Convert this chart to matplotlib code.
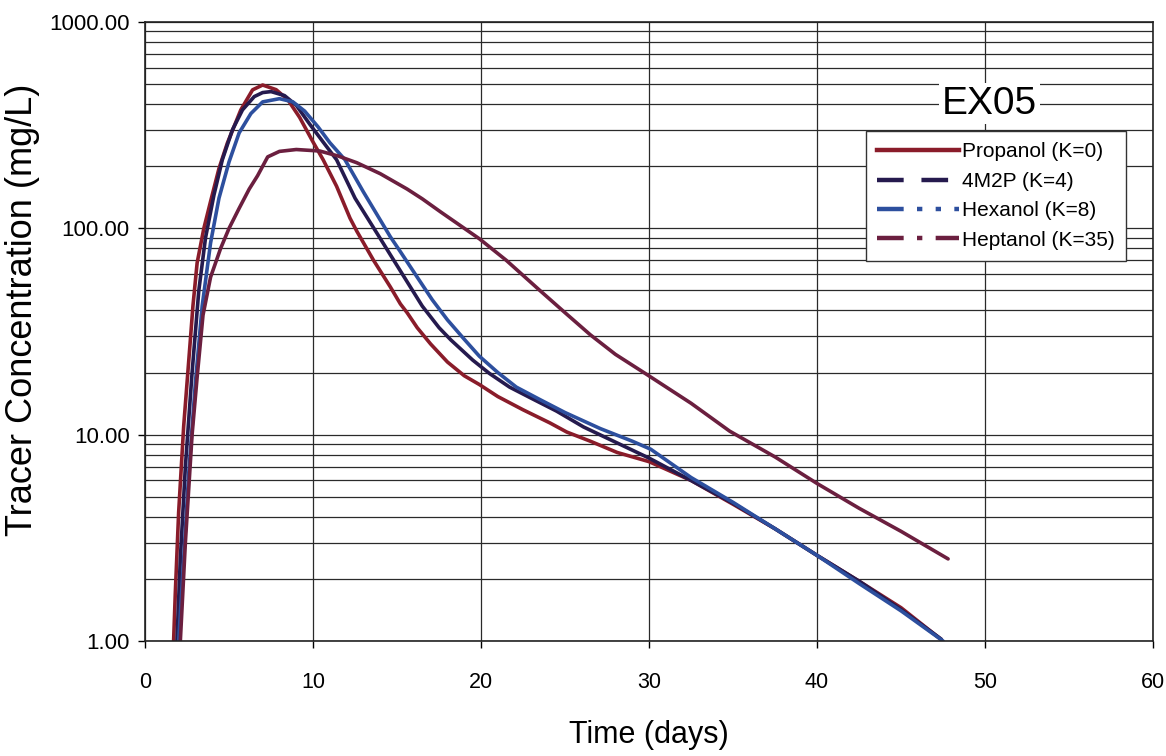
import matplotlib
matplotlib.use("Agg")
import matplotlib.pyplot as plt
from matplotlib.lines import Line2D
from matplotlib.ticker import FixedLocator, FuncFormatter, NullFormatter

plt.rcParams['font.family'] = ['Liberation Sans', 'DejaVu Sans']

# Propanol (K=0)
propanol_days = [1.7, 1.8, 2.0, 2.3, 2.7, 2.85, 3.1, 3.5, 3.9, 4.4, 4.9, 5.7, 6.4, 7.0, 7.8,
                 8.5, 9.2, 10.0, 10.6, 11.4, 12.2, 12.6, 13.6, 14.6, 15.2, 15.6, 16.2,
                 17.0, 18.0, 19.0, 19.9, 21.0, 22.5, 24.1, 25.1, 26.5, 28.1, 30.0,
                 32.5, 35.0, 37.5, 40.0, 42.5, 45.0, 47.3]
propanol_conc = [1.0, 1.7, 4.2, 11, 29, 42, 68, 100, 135, 195, 259, 375, 469, 495, 470,
                 420, 345, 262, 215, 160, 112, 97, 70, 52, 43, 39, 33,
                 27.5, 22.5, 19.3, 17.5, 15.3, 13.2, 11.4, 10.3, 9.3, 8.2, 7.4,
                 6.0, 4.6, 3.5, 2.6, 1.95, 1.45, 1.03]

# 4M2P (K=4)
m2p_days = [1.9, 2.1, 2.4, 2.8, 3.2, 3.6, 4.1, 4.6, 5.2, 5.8, 6.5, 7.0, 7.5, 8.3,
            9.0, 9.8, 10.6, 11.4, 12.5, 13.9, 15.0, 16.5, 17.5, 18.2, 19.5, 20.5,
            21.7, 23.0, 24.5, 26.1, 28.0, 30.0, 32.5, 35.0, 37.5, 40.0, 42.5, 45.0, 47.4]
m2p_conc = [1.0, 2.5, 7, 20, 50, 90, 145, 215, 300, 375, 435, 455, 460, 440,
            395, 320, 262, 215, 140, 92, 66, 42, 33, 28.8, 23, 19.8,
            17, 15, 13, 10.9, 9.2, 7.7, 6.0, 4.65, 3.5, 2.6, 1.95, 1.42, 1.02]

# Hexanol (K=8)
hexanol_days = [2.0, 2.3, 2.6, 3.0, 3.4, 3.9, 4.4, 5.0, 5.6, 6.3, 7.0, 8.0, 8.8,
                9.5, 10.3, 11.0, 11.9, 13.0, 14.6, 15.2, 16.2, 17.1, 18.0, 19.0,
                19.9, 21.0, 22.1, 23.5, 25.0, 27.1, 29.0, 30.1, 32.5, 35.0, 37.5,
                40.0, 42.5, 45.0, 47.5]
hexanol_conc = [1.0, 2.5, 6.5, 18, 42, 85, 140, 210, 290, 360, 410, 425, 410,
                370, 310, 260, 215, 150, 91, 77, 58, 45, 36, 29,
                24, 20, 17, 14.8, 12.8, 10.7, 9.3, 8.5, 6.2, 4.7, 3.5,
                2.6, 1.9, 1.4, 1.0]

# Heptanol (K=35)
heptanol_days = [2.1, 2.4, 2.8, 3.1, 3.45, 3.9, 4.5, 5.0, 5.6, 6.2, 6.7, 7.3, 8.0,
                 9.0, 10.4, 11.5, 12.6, 14.0, 15.6, 16.5, 17.6, 19.9, 21.5, 23.5, 25.0,
                 26.5, 28.0, 29.9, 32.5, 34.8, 37.5, 40.0, 42.5, 45.0, 47.8]
heptanol_conc = [1.0, 3, 10, 19, 38, 58, 80, 100, 125, 155, 180, 222, 236,
                 241, 237, 224, 208, 184, 155, 139, 120, 89, 70, 50, 39,
                 30.5, 24.5, 19.5, 14.2, 10.4, 7.8, 5.8, 4.4, 3.4, 2.5]

series_labels = ["Propanol (K=0)", "4M2P (K=4)", "Hexanol (K=8)", "Heptanol (K=35)"]
series_colors = ["#8a1c2a", "#251a4e", "#2d4f9e", "#6b1f3f"]
legend_dashes = [None, (6, 4), (6, 3, 1.2, 3, 1.2, 3), (6, 3, 1.2, 3)]

x_ticks = [0, 10, 20, 30, 40, 50, 60]
y_major = [1, 10, 100, 1000]

fig = plt.figure(figsize=(11.66, 7.56), dpi=100)
ax = fig.add_axes([0.1244, 0.1521, 0.8645, 0.8188])

grid_kw = dict(color="#2a2a2a", linewidth=0.9)
ax.set_yscale("log")
ax.set_xlim(0, 60)
ax.set_ylim(1, 1000)

ax.xaxis.set_major_locator(FixedLocator(x_ticks))
ax.yaxis.set_major_locator(FixedLocator(y_major))
minor = [m * 10 ** e for e in range(0, 3) for m in range(2, 10)]
ax.yaxis.set_minor_locator(FixedLocator(minor))
ax.yaxis.set_minor_formatter(NullFormatter())
ax.yaxis.set_major_formatter(FuncFormatter(lambda v, p: f"{v:.2f}"))
ax.grid(True, which="both", axis="y", **grid_kw)
ax.grid(True, which="major", axis="x", **grid_kw)
ax.set_axisbelow(True)

ax.tick_params(axis="y", which="major", length=5, width=1, pad=6, labelsize=16)
ax.tick_params(axis="y", which="minor", length=0)
ax.tick_params(axis="x", which="major", length=5, width=1, pad=17, labelsize=15.5)
for s in ax.spines.values():
    s.set_color("#222222")
    s.set_linewidth(1.2)

all_days = [propanol_days, m2p_days, hexanol_days, heptanol_days]
all_conc = [propanol_conc, m2p_conc, hexanol_conc, heptanol_conc]
for d, c, col in zip(all_days, all_conc, series_colors):
    ax.plot(d, c, color=col, linewidth=2.6, solid_capstyle="round")

handles = []
for col, dash in zip(series_colors, legend_dashes):
    h = Line2D([], [], color=col, linewidth=3.2)
    if dash is not None:
        h.set_dashes(dash)
    handles.append(h)
leg = ax.legend(handles, series_labels, loc="upper right",
                bbox_to_anchor=(0.973, 0.824), borderaxespad=0,
                fontsize=15, handlelength=3.9, handletextpad=0.15,
                labelspacing=0.5, borderpad=0.55, frameon=True, fancybox=False,
                framealpha=1)
leg.get_frame().set_edgecolor("#333333")
leg.get_frame().set_linewidth(1.0)

ax.text(0.838, 0.868, "EX05", transform=ax.transAxes, ha="center", va="center",
        fontsize=28, bbox=dict(facecolor="white", edgecolor="none", pad=2))

ax.set_xlabel("Time (days)", fontsize=22, labelpad=20)
ax.set_ylabel("Tracer Concentration (mg/L)", fontsize=26)
ax.yaxis.set_label_coords(-0.104, 0.535)

fig.savefig("out.png", dpi=100, facecolor="white")
